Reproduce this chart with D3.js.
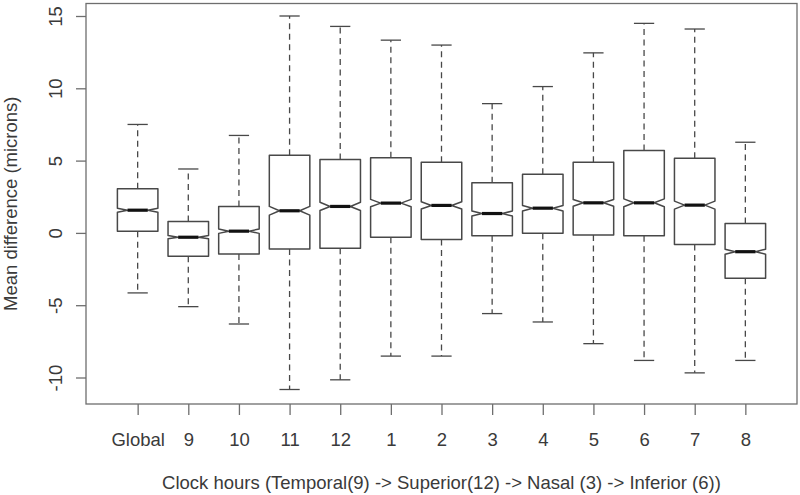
<!DOCTYPE html>
<html>
<head>
<meta charset="utf-8">
<script src="https://cdn.jsdelivr.net/npm/d3@7"></script>
<style>
  html, body { margin: 0; padding: 0; background: #fff; }
  svg { display: block; }
  text { font-family: "Liberation Sans", Arial, Helvetica, sans-serif; fill: #3a3a3a; }
</style>
</head>
<body>
<svg id="chart" width="800" height="495"></svg>
<script>
// ---- data ----
const categories = ["Global", "9", "10", "11", "12", "1", "2", "3", "4", "5", "6", "7", "8"];
const lowerWhisker = [-4.15, -5.1, -6.3, -10.83, -10.16, -8.52, -8.52, -5.58, -6.16, -7.66, -8.82, -9.68, -8.82];
const q1Values     = [0.12, -1.62, -1.46, -1.11, -1.06, -0.3, -0.46, -0.19, -0.02, -0.14, -0.19, -0.81, -3.13];
const medianValues = [1.57, -0.3, 0.12, 1.53, 1.83, 2.06, 1.9, 1.34, 1.71, 2.08, 2.08, 1.92, -1.3];
const q3Values     = [3.06, 0.79, 1.83, 5.37, 5.07, 5.19, 4.88, 3.47, 4.05, 4.88, 5.69, 5.16, 0.65];
const upperWhisker = [7.5, 4.42, 6.74, 15.0, 14.28, 13.33, 12.99, 8.94, 10.12, 12.45, 14.49, 14.1, 6.27];
const sampleSize = 1150; // per group, sets notch height (R: med +/- 1.58*IQR/sqrt(n))
const yTicks = [-10, -5, 0, 5, 10, 15];
const yTickLabels = ["-10", "-5", "0", "5", "10", "15"];
const xTitle = "Clock hours (Temporal(9) -> Superior(12) -> Nasal (3) -> Inferior (6))";
const yTitle = "Mean difference (microns)";

// ---- layout ----
const svg = d3.select("#chart");
const plot = { left: 86, right: 797, top: 3.5, bottom: 404 };
const n = categories.length;

const x = d3.scaleLinear().domain([-0.02, n + 1.02]).range([plot.left, plot.right]);
const y = d3.scaleLinear().domain([-10, 15]).range([377.5, 16]);

const boxW = (x(1) - x(0)) * 0.8;
const half = boxW / 2;
const lineCol = "#484848";
const frameCol = "#6e6e6e";

const data = categories.map((c, i) => ({
  cat: c, pos: i + 1,
  lw: lowerWhisker[i], q1: q1Values[i], med: medianValues[i], q3: q3Values[i], uw: upperWhisker[i]
}));

const g = svg.append("g");

data.forEach(d => {
  const cx = x(d.pos);
  const conf = 1.58 * (d.q3 - d.q1) / Math.sqrt(sampleSize);
  const lo = Math.max(d.q1, d.med - conf), hi = Math.min(d.q3, d.med + conf);
  // whiskers (dashed)
  g.append("line").attr("x1", cx).attr("x2", cx).attr("y1", y(d.q3)).attr("y2", y(d.uw))
    .attr("stroke", lineCol).attr("stroke-width", 1.3).attr("stroke-dasharray", "6,4.5");
  g.append("line").attr("x1", cx).attr("x2", cx).attr("y1", y(d.q1)).attr("y2", y(d.lw))
    .attr("stroke", lineCol).attr("stroke-width", 1.3).attr("stroke-dasharray", "6,4.5");
  // staples
  [d.uw, d.lw].forEach(v => {
    g.append("line").attr("x1", cx - half / 2).attr("x2", cx + half / 2)
      .attr("y1", y(v)).attr("y2", y(v))
      .attr("stroke", lineCol).attr("stroke-width", 1.3);
  });
  // notched box
  const pts = [
    [cx - half, y(d.q1)], [cx + half, y(d.q1)], [cx + half, y(lo)], [cx + half * 0.5, y(d.med)],
    [cx + half, y(hi)], [cx + half, y(d.q3)], [cx - half, y(d.q3)], [cx - half, y(hi)],
    [cx - half * 0.5, y(d.med)], [cx - half, y(lo)]
  ];
  g.append("path").attr("d", d3.line()(pts) + "Z")
    .attr("fill", "#fff").attr("stroke", lineCol).attr("stroke-width", 1.5)
    .attr("stroke-linejoin", "round");
  // median
  g.append("line").attr("x1", cx - half * 0.5).attr("x2", cx + half * 0.5)
    .attr("y1", y(d.med)).attr("y2", y(d.med))
    .attr("stroke", "#111").attr("stroke-width", 3.2);
});

// frame
svg.append("rect").attr("x", plot.left).attr("y", plot.top)
  .attr("width", plot.right - plot.left).attr("height", plot.bottom - plot.top)
  .attr("fill", "none").attr("stroke", frameCol).attr("stroke-width", 1.3);

// x axis
const xAxis = d3.axisBottom(x).tickValues(d3.range(1, n + 1))
  .tickFormat(v => categories[v - 1]).tickSize(11).tickPadding(18);
const xg = svg.append("g").attr("transform", `translate(0,${plot.bottom})`).call(xAxis);
xg.select(".domain").remove();
xg.selectAll(".tick line").attr("stroke", frameCol).attr("stroke-width", 1.3);
xg.selectAll(".tick text").attr("font-size", 18.5).attr("fill", "#3a3a3a")
  .attr("font-family", "Liberation Sans, Arial, sans-serif");

// y axis
const yAxis = d3.axisLeft(y).tickValues(yTicks).tickSize(10)
  .tickFormat(v => yTickLabels[yTicks.indexOf(v)]);
const yg = svg.append("g").attr("transform", `translate(${plot.left},0)`).call(yAxis);
yg.select(".domain").remove();
yg.selectAll(".tick line").attr("stroke", frameCol).attr("stroke-width", 1.3);
yg.selectAll(".tick text")
  .attr("font-size", 18.5).attr("fill", "#3a3a3a")
  .attr("font-family", "Liberation Sans, Arial, sans-serif")
  .attr("x", null).attr("dy", null)
  .attr("text-anchor", "middle")
  .attr("transform", "translate(-24,0) rotate(-90)");

// titles
svg.append("text").attr("x", (plot.left + plot.right) / 2).attr("y", 489)
  .attr("text-anchor", "middle").attr("font-size", 18.5).text(xTitle);
svg.append("text").attr("transform", `translate(17,${(plot.top + plot.bottom) / 2}) rotate(-90)`)
  .attr("text-anchor", "middle").attr("font-size", 18.5).text(yTitle);
</script>
</body>
</html>
